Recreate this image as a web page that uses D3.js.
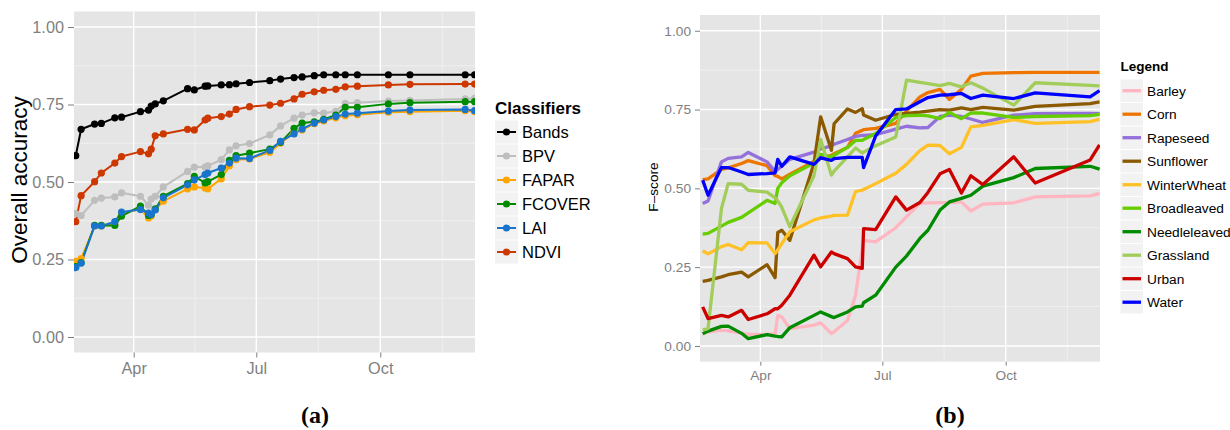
<!DOCTYPE html>
<html>
<head>
<meta charset="utf-8">
<script src="https://cdn.jsdelivr.net/npm/d3@7"></script>
<style>
  body { margin: 0; background: #ffffff; }
  svg { display: block; font-family: "Liberation Sans", Arial, Helvetica, sans-serif; }
</style>
</head>
<body>
<svg id="chart" width="1230" height="430"></svg>
<script>
// ---- acquisition dates ----
const datesA = ["2014-02-17","2014-02-21","2014-03-03","2014-03-08","2014-03-18","2014-03-23",
  "2014-04-06","2014-04-12","2014-04-14","2014-04-17","2014-04-23","2014-05-11","2014-05-16",
  "2014-05-24","2014-05-26","2014-06-05","2014-06-11","2014-06-16","2014-06-26","2014-07-11",
  "2014-07-19","2014-07-29","2014-08-04","2014-08-13","2014-08-20","2014-08-29","2014-09-05",
  "2014-09-14","2014-10-07","2014-10-23","2014-12-03","2014-12-10"];
const datesB = ["2014-02-17","2014-02-21","2014-03-03","2014-03-08","2014-03-18","2014-03-23",
  "2014-04-06","2014-04-12","2014-04-14","2014-04-17","2014-04-23","2014-05-11","2014-05-16",
  "2014-05-24","2014-05-26","2014-06-05","2014-06-11","2014-06-16","2014-06-17","2014-06-26",
  "2014-07-11","2014-07-19","2014-07-29","2014-08-04","2014-08-13","2014-08-20","2014-08-29",
  "2014-09-05","2014-09-14","2014-10-07","2014-10-23","2014-12-03","2014-12-10"];

// ---- (a) overall accuracy per classifier ----
const classifiers = ["Bands","BPV","FAPAR","FCOVER","LAI","NDVI"];
const classifierColors = ["#000000","#BEBEBE","#FFA500","#008B00","#1874CD","#CD3700"];
const bands  = [0.585,0.670,0.687,0.689,0.707,0.709,0.727,0.732,0.745,0.752,0.762,0.801,0.797,0.809,0.810,0.813,
                0.814,0.817,0.821,0.827,0.832,0.837,0.839,0.843,0.846,0.846,0.846,0.846,0.846,0.846,0.846,0.846];
const bpv    = [0.398,0.392,0.441,0.448,0.452,0.465,0.454,0.425,0.445,0.454,0.484,0.534,0.548,0.548,0.552,0.572,
                0.604,0.617,0.624,0.652,0.681,0.706,0.716,0.723,0.722,0.728,0.754,0.756,0.761,0.763,0.768,0.770];
const fapar  = [0.244,0.253,0.358,0.358,0.363,0.398,0.413,0.384,0.390,0.411,0.438,0.478,0.484,0.481,0.478,0.510,
                0.552,0.572,0.574,0.596,0.625,0.660,0.668,0.688,0.697,0.707,0.714,0.717,0.725,0.727,0.730,0.727];
const fcover = [0.227,0.240,0.360,0.360,0.360,0.390,0.422,0.392,0.395,0.413,0.454,0.495,0.518,0.497,0.501,0.524,
                0.570,0.585,0.593,0.606,0.628,0.673,0.690,0.694,0.702,0.716,0.741,0.741,0.752,0.756,0.759,0.759];
const lai    = [0.224,0.238,0.358,0.358,0.372,0.403,0.411,0.400,0.395,0.410,0.449,0.491,0.507,0.524,0.529,0.545,
                0.561,0.577,0.576,0.602,0.631,0.655,0.671,0.690,0.700,0.711,0.719,0.722,0.729,0.732,0.734,0.730];
const ndvi   = [0.372,0.456,0.501,0.529,0.561,0.582,0.598,0.591,0.606,0.649,0.655,0.670,0.668,0.700,0.706,0.711,
                0.719,0.734,0.743,0.748,0.754,0.768,0.783,0.791,0.796,0.799,0.807,0.809,0.813,0.815,0.816,0.816];
const accuracySeries = [bands, bpv, fapar, fcover, lai, ndvi];

// ---- (b) F-score per land-cover class ----
const landCovers = ["Barley","Corn","Rapeseed","Sunflower","WinterWheat","Broadleaved","Needleleaved","Grassland","Urban","Water"];
const landCoverColors = ["#FFB6C1","#EE7600","#9370DB","#8B5A00","#FFC125","#66CD00","#008B00","#A2CD5A","#CD0000","#0000FF"];
const barley      = [0.041,0.044,0.050,0.048,0.041,0.037,0.037,0.039,0.097,0.092,0.055,0.066,0.073,0.039,0.045,0.081,0.160,
                     0.310,0.335,0.330,0.375,0.410,0.452,0.454,0.455,0.455,0.457,0.428,0.450,0.454,0.473,0.476,0.484];
const corn        = [0.528,0.530,0.560,0.565,0.579,0.588,0.572,0.540,0.538,0.530,0.545,0.585,0.595,0.605,0.610,0.630,0.675,
                     0.684,0.686,0.690,0.706,0.745,0.790,0.804,0.814,0.782,0.814,0.856,0.865,0.867,0.868,0.868,0.868];
const rapeseed    = [0.452,0.460,0.584,0.595,0.600,0.614,0.584,0.553,0.560,0.570,0.592,0.615,0.625,0.635,0.640,0.655,0.665,
                     0.668,0.668,0.670,0.688,0.697,0.692,0.693,0.728,0.732,0.728,0.720,0.709,0.732,0.737,0.738,0.737];
const sunflower   = [0.205,0.208,0.219,0.226,0.234,0.219,0.258,0.217,0.360,0.367,0.335,0.580,0.727,0.621,0.705,0.752,0.741,
                     0.753,0.733,0.716,0.735,0.738,0.742,0.745,0.750,0.748,0.755,0.750,0.757,0.748,0.760,0.769,0.774];
const winterWheat = [0.302,0.292,0.315,0.322,0.305,0.328,0.327,0.293,0.305,0.325,0.362,0.400,0.406,0.412,0.414,0.415,0.490,
                     0.494,0.496,0.515,0.548,0.576,0.620,0.637,0.636,0.610,0.630,0.695,0.700,0.718,0.706,0.712,0.719];
const broadleaved = [0.355,0.357,0.380,0.392,0.408,0.422,0.462,0.452,0.500,0.518,0.540,0.580,0.608,0.600,0.605,0.630,0.652,
                     0.652,0.655,0.674,0.725,0.731,0.732,0.730,0.721,0.741,0.721,0.739,0.739,0.725,0.728,0.731,0.735];
const needleleaved= [0.039,0.047,0.062,0.063,0.040,0.023,0.036,0.031,0.030,0.029,0.058,0.097,0.108,0.093,0.090,0.108,0.124,
                     0.126,0.137,0.161,0.250,0.285,0.341,0.367,0.431,0.457,0.468,0.478,0.507,0.534,0.563,0.570,0.561];
const grassland   = [0.050,0.055,0.436,0.515,0.513,0.494,0.488,0.470,0.460,0.440,0.378,0.540,0.655,0.542,0.555,0.600,0.628,
                     0.612,0.615,0.635,0.663,0.843,0.836,0.832,0.826,0.833,0.822,0.835,0.818,0.764,0.835,0.827,0.825];
const urban       = [0.124,0.087,0.097,0.092,0.113,0.084,0.102,0.118,0.118,0.129,0.161,0.288,0.251,0.298,0.293,0.277,0.251,
                     0.246,0.372,0.369,0.473,0.431,0.455,0.487,0.546,0.560,0.485,0.540,0.512,0.600,0.517,0.590,0.638];
const water       = [0.526,0.478,0.566,0.566,0.552,0.544,0.547,0.549,0.592,0.570,0.600,0.576,0.597,0.589,0.594,0.598,0.598,
                     0.598,0.566,0.666,0.750,0.752,0.775,0.788,0.796,0.797,0.801,0.785,0.796,0.785,0.803,0.790,0.810];
const fscoreSeries = [barley, corn, rapeseed, sunflower, winterWheat, broadleaved, needleleaved, grassland, urban, water];

// ---- axis breaks ----
const yTicks = [0, 0.25, 0.5, 0.75, 1];
const monthTicks = ["2014-04-01","2014-07-01","2014-10-01"];
const monthBounds = ["2014-01-01","2015-01-01"];

const parse = d3.utcParse("%Y-%m-%d");
const svg = d3.select("#chart");
svg.append("rect").attr("width", 1230).attr("height", 430).attr("fill", "#ffffff");

function drawPanel(cfg) {
  const g = svg.append("g");
  const x = d3.scaleUtc().domain(cfg.xDomain).range([cfg.left, cfg.right]);
  const y = d3.scaleLinear().domain([-0.05, 1.05]).range([cfg.bottom, cfg.top]);

  g.append("rect")
    .attr("x", cfg.left).attr("y", cfg.top)
    .attr("width", cfg.right - cfg.left).attr("height", cfg.bottom - cfg.top)
    .attr("fill", "#E5E5E5");

  // minor grid: midpoints between major breaks
  const majorX = [monthBounds[0], ...monthTicks, monthBounds[1]].map(parse);
  const minorX = d3.pairs(majorX).map(([a, b]) => new Date((+a + +b) / 2))
    .filter(d => x(d) > cfg.left && x(d) < cfg.right);
  const minorY = d3.pairs(yTicks).map(([a, b]) => (a + b) / 2);
  g.selectAll(null).data(minorX).join("line")
    .attr("x1", d => x(d)).attr("x2", d => x(d))
    .attr("y1", cfg.top).attr("y2", cfg.bottom)
    .attr("stroke", "#F2F2F2").attr("stroke-width", 0.8);
  g.selectAll(null).data(minorY).join("line")
    .attr("x1", cfg.left).attr("x2", cfg.right)
    .attr("y1", d => y(d)).attr("y2", d => y(d))
    .attr("stroke", "#F2F2F2").attr("stroke-width", 0.8);
  // major grid
  g.selectAll(null).data(monthTicks.map(parse)).join("line")
    .attr("x1", d => x(d)).attr("x2", d => x(d))
    .attr("y1", cfg.top).attr("y2", cfg.bottom)
    .attr("stroke", "#ffffff").attr("stroke-width", 1.4);
  g.selectAll(null).data(yTicks).join("line")
    .attr("x1", cfg.left).attr("x2", cfg.right)
    .attr("y1", d => y(d)).attr("y2", d => y(d))
    .attr("stroke", "#ffffff").attr("stroke-width", 1.4);

  // axes
  const yAxis = g.append("g").attr("transform", `translate(${cfg.left},0)`)
    .call(d3.axisLeft(y).tickValues(yTicks).tickFormat(d3.format(".2f"))
      .tickSize(cfg.tickLen).tickPadding(cfg.tickPad));
  const xAxis = g.append("g").attr("transform", `translate(0,${cfg.bottom})`)
    .call(d3.axisBottom(x).tickValues(monthTicks.map(parse)).tickFormat(d3.utcFormat("%b"))
      .tickSize(cfg.tickLen - 1).tickPadding(cfg.xTickPad));
  [yAxis, xAxis].forEach(ax => {
    ax.select(".domain").remove();
    ax.selectAll(".tick line").attr("stroke", "#7F7F7F").attr("stroke-width", 1);
    ax.selectAll(".tick text").attr("fill", "#7F7F7F")
      .style("font-size", cfg.tickFont + "px")
      .style("font-family", '"Liberation Sans", Arial, sans-serif');
  });

  // y title
  g.append("text")
    .attr("transform", `translate(${cfg.yTitleX},${cfg.yTitleY}) rotate(-90)`)
    .attr("text-anchor", "middle")
    .style("font-size", cfg.yTitleFont + "px")
    .attr("fill", "#000")
    .text(cfg.yTitle);

  // sub-figure caption
  svg.append("text")
    .attr("x", cfg.captionX).attr("y", 423)
    .attr("text-anchor", "middle")
    .style("font-family", '"Liberation Serif", "Times New Roman", serif')
    .style("font-weight", "bold").style("font-size", "24px")
    .attr("fill", "#000")
    .text(cfg.caption);

  // data layer, clipped to the panel
  const clipId = "clip-" + cfg.caption.replace(/\W/g, "");
  svg.append("clipPath").attr("id", clipId).append("rect")
    .attr("x", cfg.left).attr("y", cfg.top)
    .attr("width", cfg.right - cfg.left).attr("height", cfg.bottom - cfg.top);
  const data = g.append("g").attr("clip-path", `url(#${clipId})`);
  const dates = cfg.dates.map(parse);
  const line = d3.line().x((d, i) => x(dates[i])).y(d => y(d));
  cfg.series.forEach((s, k) => {
    data.append("path").attr("d", line(s))
      .attr("fill", "none").attr("stroke", cfg.colors[k])
      .attr("stroke-width", cfg.lineWidth).attr("stroke-linejoin", "round");
  });
  if (cfg.pointRadius) {
    cfg.series.forEach((s, k) => {
      data.selectAll(null).data(s).join("circle")
        .attr("cx", (d, i) => x(dates[i])).attr("cy", d => y(d))
        .attr("r", cfg.pointRadius).attr("fill", cfg.colors[k]);
    });
  }

  // legend
  const lg = svg.append("g");
  lg.append("text").attr("x", cfg.legendX).attr("y", cfg.legendTitleY)
    .style("font-weight", "bold").style("font-size", cfg.legendTitleFont + "px")
    .attr("fill", "#000").text(cfg.legendTitle);
  cfg.names.forEach((name, k) => {
    const cy = cfg.legendY0 + k * cfg.legendStep;
    lg.append("rect")
      .attr("x", cfg.legendX).attr("y", cy - cfg.legendStep / 2 + 0.5)
      .attr("width", cfg.keyW).attr("height", cfg.legendStep - 1)
      .attr("fill", "#F2F2F2");
    lg.append("line")
      .attr("x1", cfg.legendX + 2).attr("x2", cfg.legendX + cfg.keyW - 2)
      .attr("y1", cy).attr("y2", cy)
      .attr("stroke", cfg.colors[k]).attr("stroke-width", cfg.lineWidth);
    if (cfg.pointRadius) {
      lg.append("circle").attr("cx", cfg.legendX + cfg.keyW / 2).attr("cy", cy)
        .attr("r", cfg.pointRadius).attr("fill", cfg.colors[k]);
    }
    lg.append("text").attr("x", cfg.legendX + cfg.keyW + 4).attr("y", cy)
      .attr("dy", "0.36em")
      .style("font-size", cfg.legendFont + "px").attr("fill", "#000")
      .text(name);
  });
}

drawPanel({
  left: 74, right: 475, top: 11.5, bottom: 352.5,
  xDomain: [new Date(Date.UTC(2014, 1, 15, 17)), new Date(Date.UTC(2014, 11, 10, 7))],
  dates: datesA, series: accuracySeries, colors: classifierColors, names: classifiers,
  tickLen: 6, tickPad: 4, xTickPad: 5, tickFont: 16.3,
  yTitle: "Overall accuracy", yTitleX: 27, yTitleY: 180, yTitleFont: 22.5,
  caption: "(a)", captionX: 315,
  lineWidth: 2, pointRadius: 3.6,
  legendTitle: "Classifiers", legendX: 495, legendTitleY: 114, legendTitleFont: 17,
  legendY0: 132, legendStep: 24, keyW: 23, legendFont: 16.5
});

drawPanel({
  left: 700, right: 1100, top: 15, bottom: 361.7,
  xDomain: [new Date(Date.UTC(2014, 1, 15, 0)), new Date(Date.UTC(2014, 11, 10, 8))],
  dates: datesB, series: fscoreSeries, colors: landCoverColors, names: landCovers,
  tickLen: 5, tickPad: 4, xTickPad: 5, tickFont: 13.7,
  yTitle: "F\u2013score", yTitleX: 658, yTitleY: 187, yTitleFont: 13.7,
  caption: "(b)", captionX: 950,
  lineWidth: 3.3, pointRadius: 0,
  legendTitle: "Legend", legendX: 1120.5, legendTitleY: 71, legendTitleFont: 13.5,
  legendY0: 90.7, legendStep: 23.5, keyW: 22.5, legendFont: 13.7
});
</script>
</body>
</html>
